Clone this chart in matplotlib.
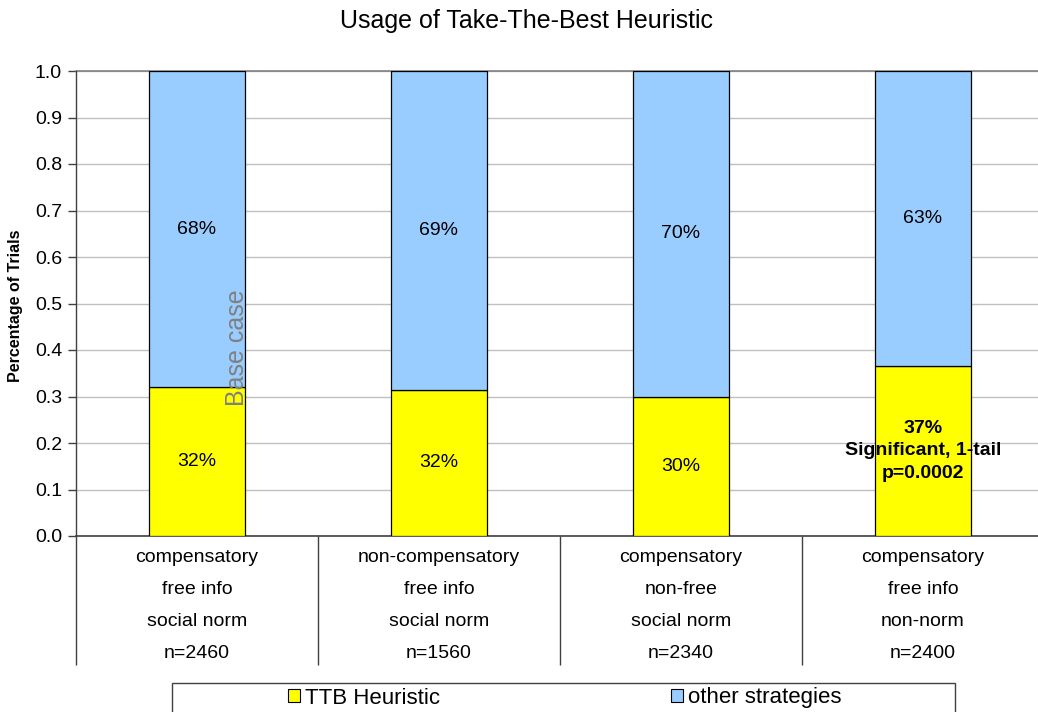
import matplotlib
matplotlib.use("Agg")
import matplotlib.pyplot as plt
from matplotlib.patches import Rectangle, Patch
from decimal import Decimal, ROUND_HALF_UP

plt.rcParams['font.family'] = ['Liberation Sans', 'DejaVu Sans']

# ---- data ----
conditions = [
    ["compensatory", "free info", "social norm", "n=2460"],
    ["non-compensatory", "free info", "social norm", "n=1560"],
    ["compensatory", "non-free", "social norm", "n=2340"],
    ["compensatory", "free info", "non-norm", "n=2400"],
]
ttb_share = [0.320, 0.315, 0.300, 0.366]
other_share = [0.680, 0.685, 0.700, 0.634]
ttb_notes = ["", "", "", "Significant, 1-tail\np=0.0002"]
series_names = ["TTB Heuristic", "other strategies"]
y_ticks = [0.0, 0.1, 0.2, 0.3, 0.4, 0.5, 0.6, 0.7, 0.8, 0.9, 1.0]

YELLOW = "#FFFF00"
BLUE = "#99CCFF"
FS = 14


def pct(v):
    return "{}%".format(Decimal(str(v * 100)).quantize(Decimal("1"), rounding=ROUND_HALF_UP))


W, H = 1038, 712
fig = plt.figure(figsize=(W / 100, H / 100), dpi=100)
ax = fig.add_axes([76 / W, 176 / H, (1044 - 76) / W, (536 - 71) / H])

x = list(range(len(conditions)))
bw = 0.4
ax.bar(x, ttb_share, width=bw, color=YELLOW, edgecolor="black", linewidth=0.9, zorder=3)
ax.bar(x, other_share, width=bw, bottom=ttb_share, color=BLUE, edgecolor="black",
       linewidth=0.9, zorder=3)

# segment labels
for i in x:
    ax.text(i, ttb_share[i] + other_share[i] / 2, pct(other_share[i]),
            ha="center", va="center", fontsize=FS, zorder=5)
    if ttb_notes[i]:
        ax.text(i, ttb_share[i] / 2, pct(ttb_share[i]) + "\n" + ttb_notes[i],
                ha="center", va="center", fontsize=FS, fontweight="bold",
                linespacing=1.42, zorder=5)
    else:
        ax.text(i, ttb_share[i] / 2, pct(ttb_share[i]),
                ha="center", va="center", fontsize=FS, zorder=5)

ax.text(0.165, 0.406, "Base case", rotation=90, ha="center", va="center",
        fontsize=18, color="#808080", zorder=6)

# axes styling
ax.set_xlim(-0.5, len(conditions) - 0.5)
ax.set_ylim(0, 1.0)
ax.set_yticks(y_ticks)
ax.set_yticklabels(["{:.1f}".format(t) for t in y_ticks], fontsize=FS)
ax.yaxis.grid(True, color="#C0C0C0", linewidth=1.0, zorder=0)
ax.set_axisbelow(True)
ax.axhline(1.0, color="#808080", linewidth=1.2, zorder=1, clip_on=False)
for s in ["top", "right"]:
    ax.spines[s].set_visible(False)
ax.spines["left"].set_color("#404040")
ax.spines["bottom"].set_color("#404040")
ax.spines["left"].set_linewidth(1.0)
ax.spines["bottom"].set_linewidth(1.2)
ax.tick_params(axis="y", length=6, width=1.0, color="#404040", pad=4)

# category separators below the axis
ax.set_xticks(x)
ax.set_xticklabels([""] * len(x))
ax.tick_params(axis="x", which="major", length=0)
ax.set_xticks([i - 0.5 for i in range(len(conditions) + 1)], minor=True)
ax.tick_params(axis="x", which="minor", length=93, width=1.0, color="#404040", direction="out")

# multi-line category labels
line_offsets = [21, 53, 85, 118]
for i, lines in enumerate(conditions):
    for off, txt in zip(line_offsets, lines):
        ax.annotate(txt, xy=(i, 0), xycoords=("data", "axes fraction"),
                    xytext=(0, -off), textcoords="offset pixels",
                    ha="center", va="center", fontsize=FS, annotation_clip=False)

fig.text(16 / W, 1 - 306 / H, "Percentage of Trials", rotation=90, ha="center",
         va="center", fontsize=11.5, fontweight="bold")
fig.text(527 / W, 1 - 21 / H, "Usage of Take-The-Best Heuristic", ha="center",
         va="center", fontsize=18)

# legend with a wide frame
fig.patches.append(Rectangle((172 / W, -0.02), (955 - 172) / W, 0.02 + (712 - 683) / H,
                             transform=fig.transFigure, facecolor="white",
                             edgecolor="#404040", linewidth=1.0))
handles = [Patch(facecolor=YELLOW, edgecolor="black", linewidth=0.8),
           Patch(facecolor=BLUE, edgecolor="black", linewidth=0.8)]
fig.legend(handles, series_names, loc="center", bbox_to_anchor=(564.5 / W, 1 - 698 / H),
           ncol=2, frameon=False, fontsize=16, handlelength=0.55, handleheight=0.55,
           handletextpad=0.2, columnspacing=10.4, borderpad=0, borderaxespad=0)

fig.savefig("out.png", dpi=100)
